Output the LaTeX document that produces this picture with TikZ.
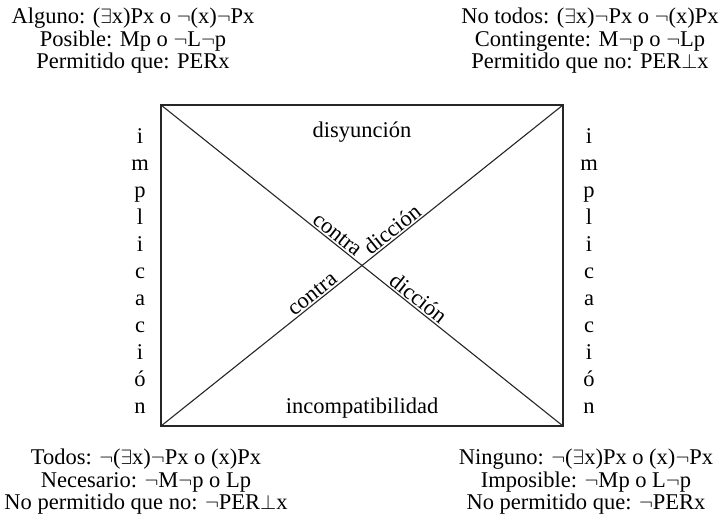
\documentclass[tikz,border=0pt]{standalone}
\usepackage{fontspec}
\setmainfont{Liberation Serif}
\begin{document}
\begin{tikzpicture}[x=1pt,y=-1pt,
  txt/.style={font=\fontsize{22.5}{22.5}\selectfont, inner sep=0pt},
  block/.style={txt, align=center},
  vert/.style={align=center, font=\fontsize{22.5}{27}\selectfont, inner sep=0pt},
  diag/.style={txt, sloped, above, inner sep=1.5pt},
  edge/.style={line width=1.1pt, draw=black!85}]
\useasboundingbox (0,0) rectangle (726,522);
\coordinate (TL) at (161,105);
\coordinate (TR) at (563,105);
\coordinate (BL) at (161,426);
\coordinate (BR) at (563,426);
\draw[edge] (TL) -- (TR) -- (BR) -- (BL) -- cycle;
\draw[edge] (TL) -- (BR) node[pos=0.425, diag] (c1) {contra} node[pos=0.625, diag] (d2) {dicción};
\draw[edge] (BL) -- (TR) node[pos=0.39, diag] (c2) {contra} node[pos=0.59, diag] (d1) {dicción};
\node[block] (alg) at (133,41) {Alguno: ($\exists$x)Px o $\neg$(x)$\neg$Px\\Posible: Mp o $\neg$L$\neg$p\\Permitido que: PERx};
\node[block] (not) at (590,41) {No todos: ($\exists$x)$\neg$Px o $\neg$(x)Px\\Contingente: M$\neg$p o $\neg$Lp\\Permitido que no: PER$\bot$x};
\node[block] (tod) at (146,482) {Todos: $\neg$($\exists$x)$\neg$Px o (x)Px\\Necesario: $\neg$M$\neg$p o Lp\\No permitido que no: $\neg$PER$\bot$x};
\node[block] (nin) at (586,482) {Ninguno: $\neg$($\exists$x)Px o (x)$\neg$Px\\Imposible: $\neg$Mp o L$\neg$p\\No permitido que: $\neg$PERx};
\node[vert, anchor=north] (impL) at (140,128) {i\\m\\p\\l\\i\\c\\a\\c\\i\\ó\\n};
\node[vert, anchor=north] (impR) at (589,128) {i\\m\\p\\l\\i\\c\\a\\c\\i\\ó\\n};
\node[txt, anchor=base] (dis) at (362,137.5) {disyunción};
\node[txt, anchor=base] (inc) at (362,413) {incompatibilidad};
\end{tikzpicture}
\end{document}
